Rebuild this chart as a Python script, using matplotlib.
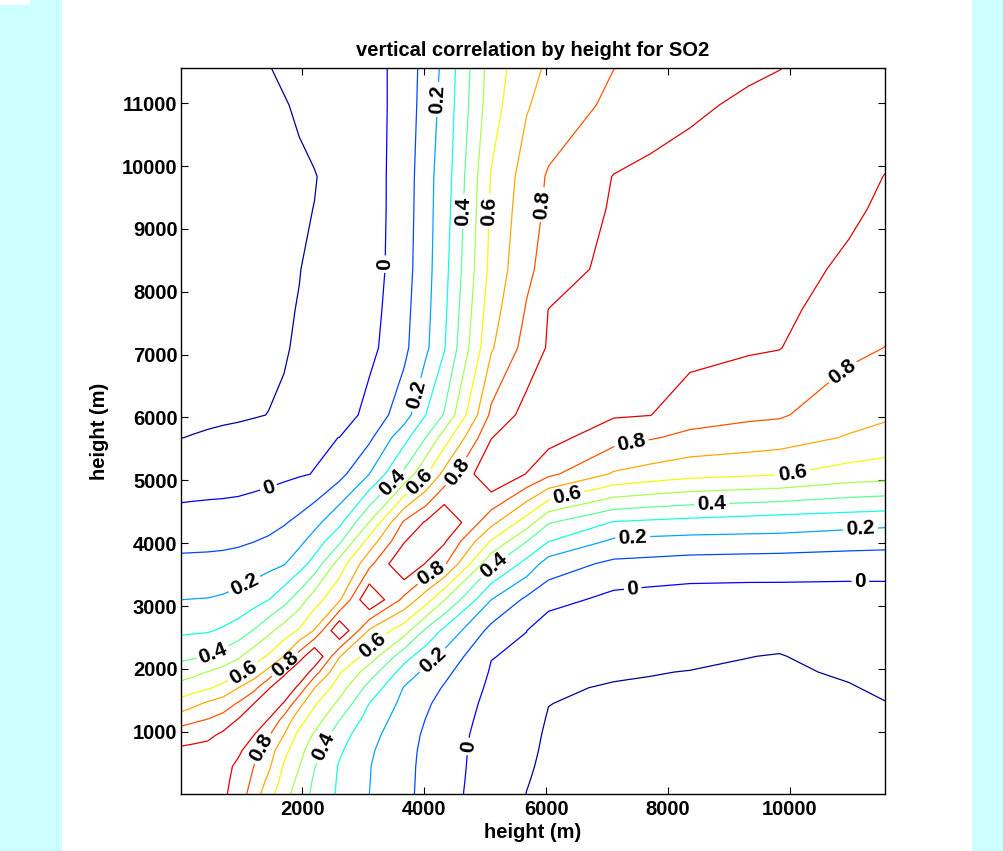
import numpy as np
import matplotlib.pyplot as plt
from matplotlib.patches import Rectangle

plt.rcParams['font.family'] = ['Liberation Sans', 'DejaVu Sans']
plt.rcParams['font.weight'] = 'bold'

# model level heights (m), used for both axes
heights = [10, 210, 450, 700, 950, 1200, 1450, 1700, 1950, 2200, 2610, 3100,
           3670, 4030, 4330, 5100, 5680, 6040, 7110, 7710, 8360, 9320, 9830,
           10970, 11560]

# correlation of each level with every level above it
corr_above = [
    [0.976, 0.947, 0.917, 0.857, 0.754, 0.638, 0.538, 0.451, 0.376, 0.283, 0.200, 0.123,
     0.074, 0.033, -0.048, -0.101, -0.120, -0.140, -0.145, -0.150, -0.160, -0.165, -0.150, -0.140],
    [0.963, 0.924, 0.867, 0.779, 0.674, 0.562, 0.472, 0.386, 0.287, 0.202, 0.124, 0.076,
     0.035, -0.045, -0.097, -0.117, -0.138, -0.143, -0.148, -0.158, -0.163, -0.145, -0.135],
    [0.940, 0.875, 0.801, 0.716, 0.588, 0.503, 0.404, 0.291, 0.204, 0.126, 0.077, 0.037,
     -0.042, -0.092, -0.114, -0.133, -0.140, -0.145, -0.155, -0.160, -0.140, -0.130],
    [0.921, 0.835, 0.749, 0.629, 0.535, 0.437, 0.313, 0.213, 0.130, 0.080, 0.039, -0.040,
     -0.087, -0.111, -0.128, -0.135, -0.140, -0.150, -0.155, -0.135, -0.125],
    [0.903, 0.809, 0.699, 0.571, 0.487, 0.344, 0.231, 0.139, 0.086, 0.043, -0.037, -0.083,
     -0.108, -0.125, -0.130, -0.135, -0.145, -0.148, -0.128, -0.118],
    [0.897, 0.768, 0.642, 0.551, 0.404, 0.260, 0.153, 0.098, 0.054, -0.032, -0.077, -0.104,
     -0.120, -0.125, -0.130, -0.137, -0.140, -0.120, -0.110],
    [0.890, 0.732, 0.613, 0.476, 0.299, 0.172, 0.114, 0.068, -0.026, -0.068, -0.099, -0.113,
     -0.118, -0.122, -0.128, -0.130, -0.112, -0.102],
    [0.868, 0.702, 0.545, 0.365, 0.195, 0.139, 0.092, -0.018, -0.040, -0.092, -0.105, -0.108,
     -0.112, -0.118, -0.120, -0.104, -0.090],
    [0.846, 0.611, 0.450, 0.257, 0.176, 0.123, -0.008, -0.026, -0.085, -0.092, -0.097, -0.102,
     -0.108, -0.110, -0.092, -0.080],
    [0.706, 0.555, 0.339, 0.242, 0.170, 0.003, -0.016, -0.078, -0.074, -0.079, -0.084, -0.099,
     -0.103, -0.075, -0.070],
    [0.687, 0.546, 0.381, 0.277, 0.070, 0.001, -0.060, -0.055, -0.060, -0.065, -0.072, -0.075,
     -0.060, -0.055],
    [0.773, 0.640, 0.504, 0.200, 0.080, 0.036, -0.028, -0.039, -0.047, -0.044, -0.038, -0.034,
     -0.038],
    [0.892, 0.815, 0.420, 0.266, 0.152, 0.078, 0.069, 0.057, 0.047, 0.040, 0.032, 0.036],
    [0.912, 0.590, 0.402, 0.302, 0.182, 0.173, 0.166, 0.166, 0.168, 0.150, 0.139],
    [0.730, 0.550, 0.408, 0.293, 0.280, 0.268, 0.252, 0.243, 0.231, 0.223],
    [0.896, 0.822, 0.689, 0.659, 0.631, 0.615, 0.606, 0.558, 0.546],
    [0.936, 0.837, 0.808, 0.778, 0.757, 0.745, 0.692, 0.667],
    [0.910, 0.902, 0.840, 0.818, 0.811, 0.737, 0.715],
    [0.964, 0.935, 0.911, 0.903, 0.823, 0.799],
    [0.966, 0.935, 0.924, 0.849, 0.821],
    [0.961, 0.947, 0.878, 0.844],
    [0.982, 0.922, 0.879],
    [0.946, 0.897],
    [0.964],
]

plain_levels = [-0.1, 0.1, 0.3, 0.5, 0.7, 0.9]
label_levels = [0, 0.2, 0.4, 0.6, 0.8]

# spots where the inline labels sit
label_spots = [
    (4200, 11060), (4625, 9280), (5067, 9280), (5902, 9390), (3349, 8440),
    (3840, 6370), (3463, 4975), (3921, 4975), (4478, 5166), (1467, 4820),
    (1057, 3336), (566, 2174), (1057, 1904), (1679, 2111), (1254, 790),
    (2285, 790), (4658, 774), (4134, 2142), (3152, 2381), (4134, 3495),
    (5166, 3606), (6344, 4768), (7408, 5564), (7424, 4052), (7424, 3256),
    (8717, 4609), (10043, 5087), (11156, 4211), (11156, 3368), (10975, 6598),
]

n = len(heights)
corr = np.eye(n)
for i, row in enumerate(corr_above):
    corr[i, i + 1:] = row
    corr[i + 1:, i] = row

fig = plt.figure(figsize=(10.04, 8.51), dpi=100, facecolor='#ccffff')
fig.patches.append(Rectangle((62 / 1004, 0), 910 / 1004, 1, transform=fig.transFigure,
                             facecolor='white', edgecolor='none', zorder=-2))
fig.patches.append(Rectangle((0, 846 / 851), 30 / 1004, 5 / 851, transform=fig.transFigure,
                             facecolor='white', edgecolor='none', zorder=-2))

ax = fig.add_axes([181 / 1004, 57 / 851, 704 / 1004, 726 / 851])
style = dict(cmap='jet', vmin=-0.12, vmax=1.0, linewidths=0.9)
ax.contour(heights, heights, corr, levels=plain_levels, **style)
cs = ax.contour(heights, heights, corr, levels=label_levels, **style)
ax.clabel(cs, fmt=lambda v: f'{v:g}', fontsize=15, colors='k',
          manual=label_spots, inline=True, inline_spacing=3)

ax.set_xlim(10, 11560)
ax.set_ylim(10, 11560)
ax.set_xticks([2000, 4000, 6000, 8000, 10000])
ax.set_yticks(range(1000, 11001, 1000))
ax.tick_params(direction='in', top=True, right=True, length=5, width=0.8,
               labelsize=14.5)
ax.tick_params(axis='x', pad=4.5)
ax.tick_params(axis='y', pad=2.5)
for s in ax.spines.values():
    s.set_linewidth(1.0)

ax.set_title('vertical correlation by height for SO2', fontsize=14.5, fontweight='bold', pad=9)
ax.set_xlabel('height (m)', fontsize=14.5, fontweight='bold', labelpad=3)
ax.set_ylabel('height (m)', fontsize=14.5, fontweight='bold', labelpad=9)

fig.savefig('out.png', dpi=100, facecolor=fig.get_facecolor())
